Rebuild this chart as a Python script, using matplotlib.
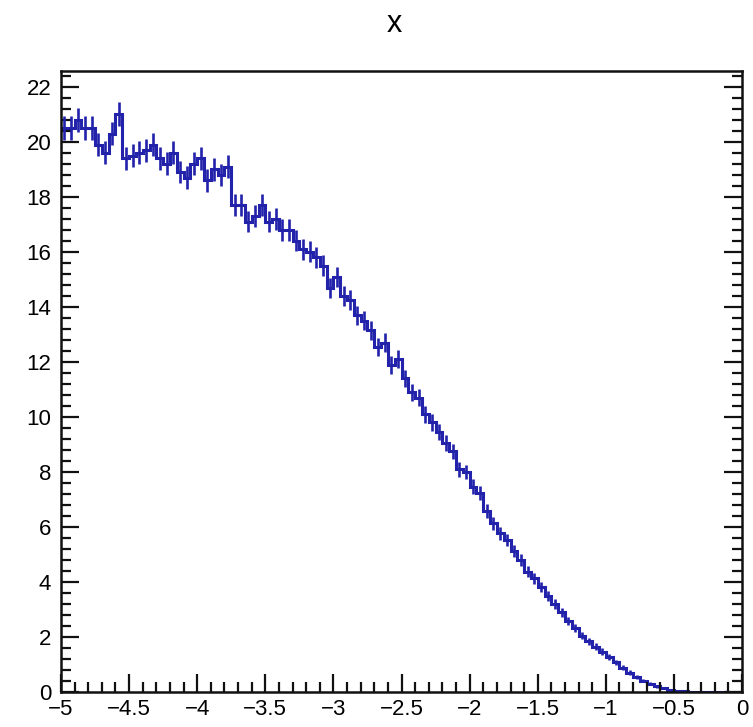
import numpy as np
import matplotlib.pyplot as plt
from matplotlib.ticker import MultipleLocator

plt.rcParams['font.family'] = ['Liberation Sans', 'DejaVu Sans']

# 100 bins from -5 to 0
x_min, x_max, n_bins = -5.0, 0.0, 100
bin_content = [
    20.5, 20.5, 20.8, 20.5, 20.5, 19.9, 19.6, 20.3, 21.0, 19.4,
    19.5, 19.6, 19.7, 19.9, 19.4, 19.2, 19.6, 18.9, 18.7, 19.2,
    19.4, 18.6, 19.0, 18.8, 19.1,
    17.7, 17.7, 17.1, 17.3, 17.7, 17.1, 17.2, 16.8, 16.8, 16.4,
    16.1, 16.0, 15.8, 15.5, 14.7,
    15.1, 14.4, 14.25, 13.7, 13.5, 13.15, 12.55, 12.7, 11.9, 12.1,
    11.4, 10.9, 10.7, 10.1, 9.8, 9.45, 9.05, 8.75, 8.1, 8.0,
    7.47, 7.23, 6.59, 6.13, 5.77, 5.53, 5.13, 4.8, 4.37, 4.13,
    3.83, 3.5, 3.2, 2.9, 2.58, 2.32, 2.05, 1.85,
    1.65, 1.47, 1.28, 1.08, 0.88, 0.71, 0.55, 0.42, 0.31, 0.21,
    0.14, 0.09, 0.05, 0.03, 0.02, 0.01, 0.005, 0.003, 0.001, 0.0, 0.0, 0.0,
]
# weight per entry, errors are sqrt(sum w^2)
entry_weight = 0.009

values = np.array(bin_content)
edges = np.linspace(x_min, x_max, n_bins + 1)
centers = 0.5 * (edges[:-1] + edges[1:])
errors = np.sqrt(values * entry_weight)

line_color = '#2222aa'

fig = plt.figure(figsize=(7.53, 7.27), dpi=100)
ax = fig.add_axes([0.081, 0.048, 0.9045, 0.8537])

ax.stairs(values, edges, color=line_color, linewidth=2.2, baseline=None)
ax.errorbar(centers, values, yerr=errors, fmt='none', ecolor=line_color,
            elinewidth=1.9, capsize=0)

ax.set_xlim(x_min, x_max)
ax.set_ylim(0, 22.56)

ax.xaxis.set_major_locator(MultipleLocator(0.5))
ax.xaxis.set_minor_locator(MultipleLocator(0.1))
ax.yaxis.set_major_locator(MultipleLocator(2))
ax.yaxis.set_minor_locator(MultipleLocator(0.4))

ax.tick_params(which='both', direction='in', top=False, right=True,
               width=1.6, color='#111111', labelsize=16)
ax.tick_params(which='major', length=13)
ax.tick_params(which='minor', length=7)
ax.tick_params(axis='x', pad=5)
ax.tick_params(axis='y', pad=7)

ax.set_xticks(np.arange(-5, 0.01, 0.5))
ax.set_xticklabels(['\u22125', '\u22124.5', '\u22124', '\u22123.5', '\u22123',
                    '\u22122.5', '\u22122', '\u22121.5', '\u22121', '\u22120.5', '0'])

for spine in ax.spines.values():
    spine.set_linewidth(1.8)
    spine.set_color('#111111')

fig.text(0.523, 0.967, 'x', ha='center', va='center', fontsize=22)

fig.savefig('out.png', dpi=100)
plt.close(fig)
